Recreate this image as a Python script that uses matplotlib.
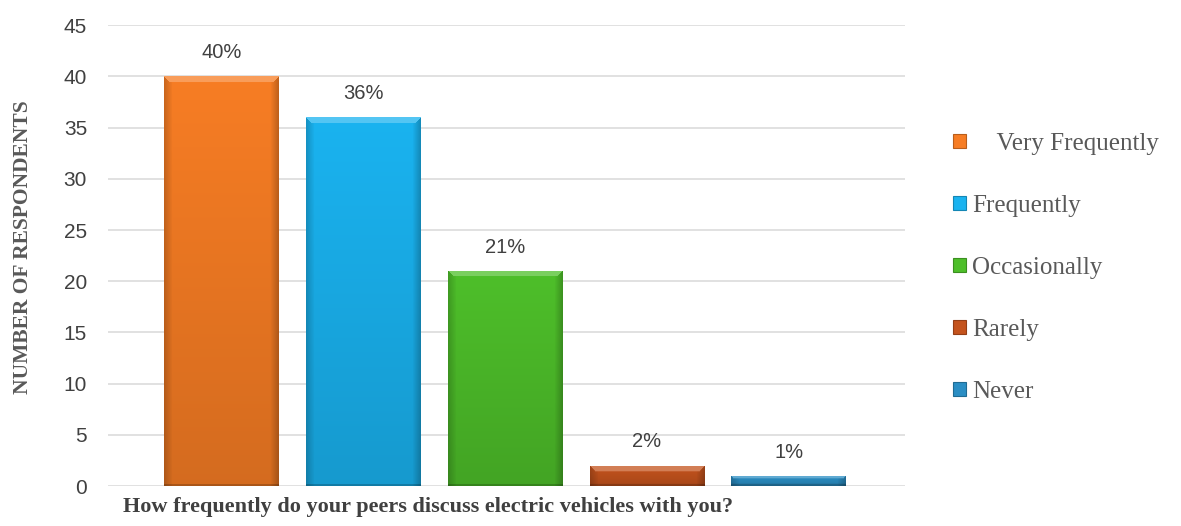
import matplotlib.pyplot as plt
import matplotlib.colors as mcolors
from matplotlib.patches import Patch
import numpy as np

# Survey responses
categories = ['    Very Frequently', 'Frequently', 'Occasionally', 'Rarely', 'Never']
respondents = [40, 36, 21, 2, 1]
pct_labels = ['40%', '36%', '21%', '2%', '1%']
bar_colors = ['#F77D24', '#1AB3F0', '#4EBF2A', '#C4531D', '#2B8EC4']
y_ticks = [0, 5, 10, 15, 20, 25, 30, 35, 40, 45]


def shade(color, factor):
    r, g, b = mcolors.to_rgb(color)
    if factor >= 1:
        f = factor - 1
        return (r + (1 - r) * f, g + (1 - g) * f, b + (1 - b) * f)
    return (r * factor, g * factor, b * factor)


def bevel_fill(ax, bar, color):
    """Paint a bar with a vertical gradient, darker sides and a light top edge."""
    x0, y0 = bar.get_x(), bar.get_y()
    w, h = bar.get_width(), bar.get_height()
    # size of the bar in pixels, so the bevel keeps a fixed thickness
    p0 = ax.transData.transform((x0, y0))
    p1 = ax.transData.transform((x0 + w, y0 + h))
    nw = max(int(abs(p1[0] - p0[0])), 4)
    nh = max(int(abs(p1[1] - p0[1])), 4)

    base = np.array(mcolors.to_rgb(color))
    vert = np.linspace(1.0, 0.86, nh)            # top -> bottom
    horiz = np.ones(nw)
    edge = max(nw // 14, 2)
    horiz[:edge] = np.linspace(0.82, 0.97, edge)
    horiz[-edge:] = np.linspace(0.97, 0.78, edge)
    img = base[None, None, :] * vert[:, None, None] * horiz[None, :, None]

    # light band along the top, narrowing to the corners
    band = min(6, nh // 3)
    for i in range(band):
        lo, hi = i, nw - i
        img[i, lo:hi] = np.clip(base + (1 - base) * 0.25, 0, 1)
    img[-2:, :] *= 0.8
    img = np.clip(img, 0, 1)

    im = ax.imshow(img, extent=(x0, x0 + w, y0, y0 + h), origin='upper',
                   aspect='auto', interpolation='bilinear', zorder=3)
    im.set_clip_path(bar)


fig = plt.figure(figsize=(11.81, 5.26), dpi=100)
ax = fig.add_axes([0.0914, 0.076, 0.675, 0.876])

x = np.arange(len(respondents))
width = 0.81

ax.set_xlim(-0.80, 4.82)
ax.set_ylim(0, 45)

bars = ax.bar(x, respondents, width=width, color=bar_colors, linewidth=0, zorder=2)
for bar, c in zip(bars, bar_colors):
    bevel_fill(ax, bar, c)
ax.set_xlim(-0.80, 4.82)
ax.set_ylim(0, 45)

for xi, v, lab in zip(x, respondents, pct_labels):
    ax.annotate(lab, (xi, v), xytext=(0, 17), textcoords='offset points',
                ha='center', va='center', fontsize=14.5, color='#404040',
                family='Liberation Sans')

ax.set_yticks(y_ticks)
ax.set_xticks([])
ax.yaxis.grid(True, color='#D9D9D9', linewidth=1.1, zorder=0)
ax.set_axisbelow(True)
for s in ax.spines.values():
    s.set_visible(False)
ax.tick_params(axis='y', length=0, pad=15, labelsize=15, labelcolor='#404040')
for t in ax.get_yticklabels():
    t.set_family('Liberation Sans')

ax.set_ylabel('NUMBER OF RESPONDENTS', family='Liberation Serif', fontweight='bold',
              fontsize=15.5, color='#595959')
ax.yaxis.set_label_coords(-0.094, 0.518)
ax.set_xlabel('How frequently do your peers discuss electric vehicles with you?',
              family='Liberation Serif', fontweight='bold', fontsize=16,
              color='#404040', labelpad=8, x=0.402)

handles = [Patch(facecolor=c, edgecolor=shade(c, 0.75), linewidth=0.8) for c in bar_colors]
leg = fig.legend(handles, categories, loc='upper left', bbox_to_anchor=(0.788, 0.79),
                 frameon=False, prop={'family': 'Liberation Serif', 'size': 18},
                 handlelength=0.5, handleheight=0.5, handletextpad=0.25,
                 labelspacing=1.6)
for t in leg.get_texts():
    t.set_color('#595959')

fig.savefig('out.png', dpi=100)
